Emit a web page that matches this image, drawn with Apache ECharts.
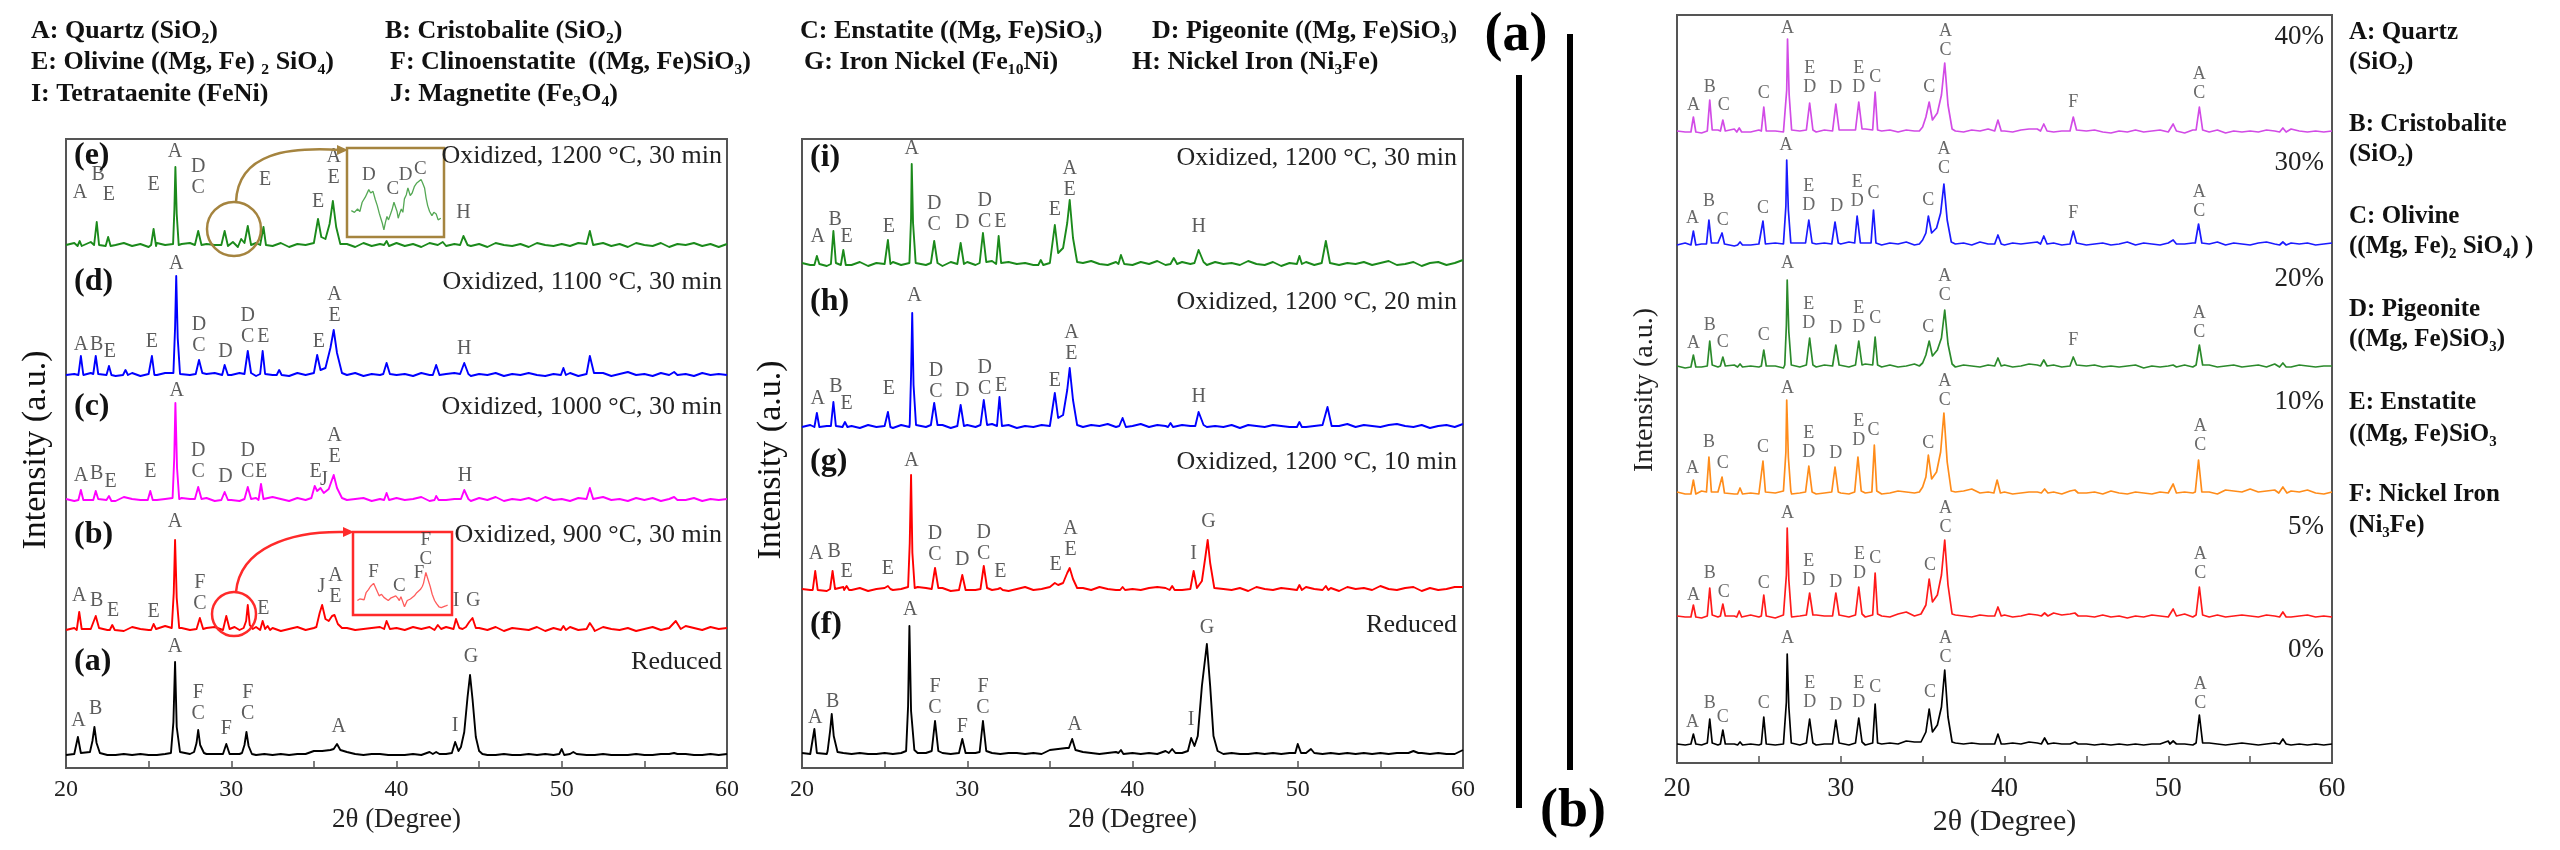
<!DOCTYPE html>
<html><head><meta charset="utf-8">
<script src="https://cdn.jsdelivr.net/npm/echarts/dist/echarts.min.js"></script>
<style>html,body{margin:0;padding:0;background:#fff}#c{width:2560px;height:850px}</style>
</head><body><div id="c"></div>
<script>
// ---------- DATA ----------
// baseline samples: 2θ = 20, 20.5, ... 60 ; peaks: flat [2θ, I, 2θ, I, ...] groups ; labels: [2θ, label height, text]
const aBase=[2,3,2,2,3,2,2,3,2,3, 2,2,3,2,3,3,4,3,3,3, 3,3,3,2,3,2,3,2,3,3, 6,6,7,9,5,3,2,3,3,2, 2,2,3,2,5,3,3,6,4,3, 3,2,2,3,2,2,3,2,3,2, 8,3,5,2,2,3,2,2,2,3, 2,2,3,3,4,3,2,2,3,2, 3];
const aPeaks=[[20.55,3,20.72,20,20.9,4],[21.45,5,21.6,16,21.72,30,21.85,14,22.05,4],[26.35,4,26.5,35,26.6,95,26.7,30,26.9,5],[27.75,5,27.9,14,28.0,27,28.12,12,28.35,4],[29.5,3,29.7,13,29.9,3],[30.65,4,30.8,12,30.92,25,31.05,11,31.25,3],[36.2,8,36.4,13,36.6,7],[42.2,3,42.4,5,42.6,3],[43.35,4,43.55,15,43.75,6,43.9,10,44.1,25,44.3,60,44.45,82,44.6,58,44.8,20,45.0,6,45.2,3],[49.85,3,50.0,8,50.15,2],[50.55,3,50.7,5,50.9,3],[56.6,2,56.8,4,57.0,3]];
const aLabels=[[20.75,25,'A'],[21.8,37,'B'],[26.6,99,'A'],[28.0,32,'F\nC'],[29.7,17,'F'],[31.0,32,'F\nC'],[36.5,19,'A'],[43.55,20,'I'],[44.5,89,'G']];

const bBase=[3,5,2,4,6,3,5,2,6,4, 3,5,7,4,5,3,4,5,6,3, 4,2,5,6,3,5,2,4,6,3, 5,8,9,6,5,3,4,5,6,4, 5,3,6,4,6,4,6,5,5,4, 5,3,6,2,5,4,3,6,2,5, 4,6,3,5,2,6,4,3,5,2, 4,6,3,5,4,7,5,3,6,4, 5];
const bPeaks=[[20.65,3,20.8,21,20.95,4],[21.6,4,21.8,17,22.0,5],[22.65,3,22.8,8,22.95,3],[25.15,3,25.3,9,25.45,4],[26.4,5,26.52,40,26.6,93,26.7,35,26.85,5],[27.9,4,28.1,15,28.3,4],[29.5,3,29.7,17,29.9,4,30.2,6,30.5,3],[30.75,5,30.9,12,31.0,28,31.12,8,31.3,4],[31.75,3,31.9,12,32.05,4,32.2,7,32.35,3],[35.15,6,35.35,20,35.5,28,35.7,14,35.9,12,36.1,17,36.25,18,36.45,9,36.7,5],[39.25,4,39.4,12,39.6,4],[42.3,3,42.5,8,42.7,4],[43.45,4,43.6,14,43.8,5,44.0,4,44.2,6,44.4,11,44.6,15,44.8,5],[49.95,3,50.1,7,50.25,3],[51.5,4,51.7,10,51.9,5],[56.6,5,56.9,12,57.2,4]];
const bLabels=[[20.8,26,'A'],[21.85,21,'B'],[22.85,11,'E'],[25.3,10,'E'],[26.6,100,'A'],[28.1,18,'F\nC'],[31.95,13,'E'],[35.45,35,'J'],[36.3,25,'A\nE'],[43.6,21,'I'],[44.65,21,'G']];

const cBase=[4,2,5,3,5,3,2,6,4,3, 5,3,4,2,5,4,3,5,2,5, 3,2,4,5,3,6,4,2,5,3, 6,7,8,6,3,4,5,2,4,3, 5,3,4,6,2,5,3,4,4,2, 5,3,6,2,4,3,5,2,6,3, 4,2,5,3,5,6,3,4,2,5, 3,5,2,4,6,3,5,2,4,3, 4];
const cPeaks=[[20.75,3,20.9,13,21.05,3],[21.65,3,21.8,12,21.95,4],[22.45,3,22.6,7,22.75,2],[24.95,3,25.1,12,25.25,3],[26.45,5,26.55,45,26.62,100,26.72,35,26.85,4],[27.8,4,28.0,16,28.2,4],[29.4,3,29.6,11,29.8,3],[30.8,4,31.0,16,31.2,4],[31.65,3,31.8,19,31.95,4],[34.85,5,35.05,17,35.2,12,35.4,15,35.6,10,35.9,14,36.2,28,36.4,15,36.7,5],[39.25,3,39.4,10,39.55,3],[42.3,3,42.4,7,42.55,3],[43.9,4,44.1,13,44.35,4],[51.5,4,51.7,15,51.9,4],[56.6,3,56.8,6,57.0,3]];
const cLabels=[[20.9,16,'A'],[21.85,18,'B'],[22.7,10,'E'],[25.1,20,'E'],[26.7,101,'A'],[28.0,20,'D\nC'],[29.65,15,'D'],[31.0,20,'D\nC'],[31.8,20,'E'],[35.1,20,'E'],[35.6,12,'J'],[36.25,35,'A\nE'],[44.15,16,'H']];

const dBase=[3,4,2,5,3,4,2,3,5,2, 4,3,5,2,4,3,2,4,5,3, 3,5,3,2,6,3,4,2,5,3, 4,5,6,4,3,5,2,4,3,5, 3,4,2,5,3,6,4,5,3,2, 4,3,5,2,4,3,5,3,2,4, 3,5,2,4,3,5,2,4,6,3, 4,2,5,3,5,4,2,5,3,4, 3];
const dPeaks=[[20.75,3,20.9,22,21.05,3],[21.65,4,21.8,22,21.95,4],[22.45,3,22.6,12,22.75,3],[23.45,3,23.6,8,23.75,3],[25.05,3,25.2,22,25.35,3],[26.5,5,26.6,50,26.67,102,26.76,40,26.9,4],[27.85,4,28.05,18,28.25,5],[29.45,3,29.6,13,29.8,3],[30.8,4,31.0,27,31.2,5],[31.75,4,31.9,27,32.05,4],[32.75,3,32.9,8,33.05,3],[35.0,5,35.2,23,35.4,8,35.7,10,36.0,30,36.2,48,36.4,25,36.7,5],[39.2,4,39.4,15,39.6,4],[42.2,3,42.4,13,42.6,3],[43.85,4,44.1,15,44.35,4],[49.95,3,50.1,10,50.25,3],[51.5,4,51.7,22,51.95,5],[56.6,3,56.8,6,57.0,3]];
const dLabels=[[20.9,22,'A'],[21.85,22,'B'],[22.65,15,'E'],[25.2,25,'E'],[26.67,103,'A'],[28.05,21,'D\nC'],[29.65,15,'D'],[31.0,30,'D\nC'],[31.95,30,'E'],[35.3,25,'E'],[36.25,51,'A\nE'],[44.1,18,'H']];

const eBase=[4,6,3,7,2,5,4,6,3,5, 2,6,4,3,5,6,2,5,4,7, 3,5,2,6,4,3,6,2,5,4, 6,5,7,4,5,2,6,3,5,4, 6,3,5,2,6,4,3,5,6,3, 5,2,6,4,3,5,2,6,4,3, 5,3,6,2,4,6,3,5,2,6, 4,3,6,2,5,4,6,3,5,2, 5];
const ePeaks=[[20.7,3,20.83,8,20.95,3],[21.7,4,21.86,27,22.0,4],[22.4,3,22.55,12,22.7,3],[25.15,4,25.3,20,25.45,3],[26.48,5,26.56,40,26.62,82,26.7,35,26.82,4],[27.8,4,28.0,18,28.2,4],[29.4,4,29.6,18,29.8,3,30.1,7,30.4,2,30.6,10,30.8,6,31.0,23,31.2,4],[31.75,4,31.95,22,32.1,4],[35.05,5,35.25,30,35.45,12,35.7,10,35.95,25,36.15,48,36.35,22,36.6,5],[39.25,4,39.4,8,39.55,3],[42.6,3,42.8,7,43.0,3],[43.85,4,44.05,13,44.3,4],[51.5,5,51.7,18,51.9,4]];
const eLabels=[[20.85,45,'A'],[21.95,63,'B'],[22.6,43,'E'],[25.3,53,'E'],[26.6,86,'A'],[28.0,50,'D\nC'],[32.05,58,'E'],[35.25,36,'E'],[36.2,60,'A\nE'],[44.05,25,'H']];

const fBase=[3,2,3,2,2,3,2,3,2,2, 3,2,3,2,3,3,4,3,2,3, 3,3,2,3,2,3,3,2,3,2, 6,7,8,8,4,3,2,3,4,2, 3,2,3,2,5,3,3,6,3,3, 3,2,3,2,2,3,2,3,2,3, 12,3,6,2,3,2,3,2,3,2, 3,2,3,3,4,3,2,3,2,2, 6];
const fPeaks=[[20.6,3,20.75,27,20.9,3],[21.55,5,21.7,25,21.8,42,21.92,20,22.15,4],[26.3,5,26.42,50,26.5,130,26.6,45,26.8,6],[27.85,5,28.05,35,28.25,5],[29.5,3,29.7,17,29.9,3],[30.75,4,30.95,35,31.15,5],[36.15,8,36.35,17,36.55,6],[39.15,3,39.3,6,39.45,2],[42.2,3,42.4,7,42.6,3],[43.35,5,43.55,18,43.75,10,43.95,20,44.2,70,44.5,112,44.7,70,44.9,20,45.15,5],[49.85,3,50.0,12,50.2,3],[50.6,3,50.8,7,51.0,3],[56.7,3,57.0,5,57.3,3]];
const fLabels=[[20.8,27,'A'],[21.85,43,'B'],[26.55,135,'A'],[28.05,37,'F\nC'],[29.7,18,'F'],[30.95,37,'F\nC'],[36.5,20,'A'],[43.55,25,'I'],[44.5,117,'G']];

const gBase=[4,3,5,2,4,6,3,5,2,4, 5,3,4,2,6,5,3,5,2,4, 5,3,6,3,5,2,4,6,3,4, 6,9,12,7,5,3,6,4,3,5, 4,3,5,6,5,4,3,6,5,3, 6,4,3,5,2,6,4,3,5,4, 5,6,4,3,5,2,6,4,5,3, 7,4,3,5,6,2,5,3,4,6, 6];
const gPeaks=[[20.65,3,20.8,22,20.95,3],[21.7,4,21.85,22,22.0,4],[22.55,3,22.7,7,22.85,3],[25.05,3,25.2,7,25.35,4],[26.42,6,26.52,50,26.6,118,26.68,40,26.82,5],[27.85,4,28.05,25,28.25,5],[29.5,3,29.7,18,29.9,3],[30.8,4,31.0,27,31.2,5],[31.85,4,32.0,5,32.15,3],[35.1,6,35.3,10,35.5,8,35.8,10,36.05,20,36.2,25,36.4,14,36.65,5],[39.25,3,39.4,6,39.55,3],[42.25,3,42.4,7,42.55,3],[43.5,4,43.7,22,43.9,5,44.2,12,44.4,35,44.55,53,44.7,30,44.95,5],[49.95,3,50.1,8,50.25,3],[51.55,4,51.7,7,51.85,3]];
const gLabels=[[20.85,28,'A'],[21.95,30,'B'],[22.7,10,'E'],[25.2,13,'E'],[26.62,121,'A'],[28.05,27,'D\nC'],[29.7,22,'D'],[31.0,28,'D\nC'],[32.0,10,'E'],[35.35,17,'E'],[36.25,32,'A\nE'],[43.7,28,'I'],[44.6,60,'G']];

const hBase=[3,5,2,4,3,6,4,2,5,3, 4,2,5,3,6,3,4,5,2,4, 5,3,4,6,3,5,2,4,3,5, 4,6,5,4,3,5,4,6,3,5, 4,6,3,5,4,3,5,4,6,3, 4,3,5,2,5,4,3,5,4,3, 6,3,4,5,2,4,6,3,5,4, 3,5,6,4,3,5,2,4,5,3, 6];
const hPeaks=[[20.75,3,20.9,17,21.05,3],[21.75,4,21.9,28,22.05,4],[22.45,3,22.6,8,22.75,3],[25.05,3,25.2,18,25.35,3],[26.52,6,26.6,55,26.67,117,26.75,45,26.9,5],[27.8,5,28.0,27,28.2,5],[29.4,4,29.6,25,29.8,4],[30.8,5,31.0,30,31.2,5],[31.8,4,31.95,33,32.1,4],[35.1,5,35.3,37,35.5,12,35.8,15,36.05,40,36.2,62,36.4,30,36.65,5],[39.2,4,39.4,12,39.6,3],[42.15,3,42.3,7,42.45,3],[43.8,4,44.0,18,44.3,5],[49.95,3,50.1,8,50.25,3],[51.55,4,51.8,23,52.05,4]];
const hLabels=[[20.95,20,'A'],[22.05,32,'B'],[22.7,15,'E'],[25.25,30,'E'],[26.8,123,'A'],[28.1,27,'D\nC'],[29.7,28,'D'],[31.05,30,'D\nC'],[32.05,33,'E'],[35.3,38,'E'],[36.3,65,'A\nE'],[44.0,22,'H']];

const iBase=[5,3,7,2,5,6,3,6,2,5, 4,6,3,5,7,3,5,2,6,4, 6,3,5,7,2,6,4,5,3,6, 5,4,6,3,5,7,4,3,6,5, 3,6,4,7,3,5,6,4,5,3, 6,4,5,3,7,4,3,6,2,5, 4,6,3,5,6,3,5,4,6,3, 5,7,3,4,6,2,5,6,3,5, 8];
const iPeaks=[[20.75,3,20.9,12,21.05,4],[21.75,4,21.9,37,22.05,5],[22.35,3,22.5,18,22.65,3],[25.05,4,25.2,28,25.35,4],[26.52,6,26.6,50,26.64,104,26.72,45,26.88,5],[27.8,5,28.0,27,28.2,5],[29.4,4,29.6,25,29.8,4],[30.75,5,30.95,35,31.15,6],[31.75,4,31.9,32,32.05,5],[34.3,3,34.45,8,34.6,3],[35.1,6,35.3,43,35.5,15,35.8,20,36.05,45,36.2,68,36.4,30,36.65,6],[39.15,4,39.3,13,39.5,4],[42.3,4,42.5,10,42.7,4],[43.75,5,44.0,18,44.3,6],[49.95,4,50.1,12,50.25,4],[51.45,5,51.7,27,51.95,5]];
const iLabels=[[20.95,20,'A'],[22.0,37,'B'],[22.7,20,'E'],[25.25,30,'E'],[26.64,108,'A'],[28.0,32,'D\nC'],[29.7,34,'D'],[31.05,35,'D\nC'],[32.0,35,'E'],[35.3,47,'E'],[36.2,67,'A\nE'],[44.0,30,'H']];

const p40Base=[4,3,5,2,4,5,3,6,4,3, 5,2,4,3,5,4,6,3,5,4, 3,5,4,6,3,4,5,3,5,4, 6,5,4,8,4,3,5,4,6,5, 4,3,5,6,6,5,3,4,5,3, 4,5,3,2,4,3,5,3,4,5, 3,4,2,5,4,3,5,2,4,3, 4,3,5,4,5,6,4,3,4,3, 4];
const p40Peaks=[[20.85,3,21.0,18,21.15,3],[21.85,4,22.0,35,22.15,5],[22.65,4,22.8,15,22.95,4],[23.65,3,23.8,7,23.95,3],[25.15,4,25.3,28,25.45,4],[26.6,5,26.7,45,26.75,96,26.85,40,27.0,5],[27.9,5,28.1,32,28.3,5],[29.5,4,29.7,31,29.9,5],[30.9,5,31.1,33,31.3,6],[31.95,5,32.1,43,32.25,5],[34.8,4,35.0,8,35.2,18,35.4,33,35.6,15,35.9,22,36.15,40,36.35,72,36.55,30,36.8,6],[39.4,4,39.6,15,39.8,4],[42.2,4,42.4,11,42.6,4],[44.0,4,44.2,18,44.4,5],[50.1,4,50.3,11,50.5,4],[51.7,5,51.9,28,52.1,5],[56.8,3,57.0,7,57.2,3]];
const p40Labels=[[21.0,20,'A'],[22.0,38,'B'],[22.85,20,'C'],[25.3,32,'C'],[26.75,97,'A'],[28.1,38,'E\nD'],[29.7,37,'D'],[31.1,38,'E\nD'],[32.1,48,'C'],[35.4,38,'C'],[36.4,75,'A\nC'],[44.2,23,'F'],[51.9,32,'A\nC']];

const p30Base=[3,5,2,4,3,5,4,2,5,3, 4,3,5,4,3,5,2,4,5,3, 4,6,3,5,4,3,5,4,6,3, 5,4,6,7,4,5,3,6,4,5, 3,5,4,5,6,4,5,3,4,5, 3,4,5,3,4,6,3,5,4,3, 5,3,4,5,3,4,6,3,5,4, 3,5,6,4,3,5,4,5,3,4, 5];
const p30Peaks=[[20.85,3,21.0,17,21.15,3],[21.8,4,21.95,28,22.1,5],[22.6,4,22.75,15,22.9,4],[23.7,3,23.85,6,24.0,3],[25.1,4,25.25,27,25.4,4],[26.55,5,26.65,42,26.7,88,26.8,38,26.95,5],[27.85,5,28.05,28,28.25,5],[29.45,4,29.65,26,29.85,5],[30.85,5,31.0,32,31.2,5],[31.85,5,32.0,38,32.15,5],[34.8,4,35.0,8,35.2,15,35.35,32,35.55,15,35.85,20,36.1,35,36.3,64,36.5,28,36.75,6],[39.4,4,39.6,13,39.8,4],[42.2,4,42.4,12,42.6,4],[44.0,4,44.2,17,44.4,5],[50.1,4,50.3,8,50.5,4],[51.65,5,51.85,24,52.05,5],[56.8,3,57.0,6,57.2,3]];
const p30Labels=[[20.95,20,'A'],[21.95,37,'B'],[22.8,18,'C'],[25.25,30,'C'],[26.65,93,'A'],[28.05,33,'E\nD'],[29.75,32,'D'],[31.0,37,'E\nD'],[32.0,45,'C'],[35.35,38,'C'],[36.3,70,'A\nC'],[44.2,25,'F'],[51.9,27,'A\nC']];

const p20Base=[4,2,5,3,5,3,4,5,2,4, 3,5,4,2,5,3,4,3,5,4, 5,3,4,6,4,3,5,3,4,6, 4,5,6,7,3,5,4,3,5,4, 5,3,4,6,5,4,5,3,4,5, 4,5,3,4,3,4,5,2,4,3, 4,3,5,3,4,5,3,4,5,3, 4,5,3,6,4,3,5,4,3,4, 4];
const p20Peaks=[[20.85,3,21.0,15,21.15,3],[21.85,4,22.0,29,22.15,5],[22.65,4,22.8,13,22.95,4],[23.7,3,23.85,6,24.0,3],[25.15,4,25.3,20,25.45,4],[26.58,5,26.68,45,26.73,90,26.83,38,26.98,5],[27.9,5,28.1,32,28.3,5],[29.5,4,29.7,25,29.9,5],[30.9,5,31.1,29,31.3,5],[31.95,5,32.1,33,32.25,5],[34.8,4,35.0,7,35.2,15,35.4,29,35.6,14,35.9,20,36.15,32,36.35,60,36.55,26,36.8,6],[39.4,4,39.6,12,39.8,4],[42.2,4,42.4,10,42.6,4],[44.0,4,44.2,13,44.4,5],[50.1,3,50.3,5,50.5,3],[51.7,5,51.9,25,52.1,5],[56.8,3,57.0,7,57.2,3]];
const p20Labels=[[21.0,17,'A'],[22.0,35,'B'],[22.8,18,'C'],[25.3,25,'C'],[26.75,97,'A'],[28.05,37,'E\nD'],[29.7,32,'D'],[31.1,33,'E\nD'],[32.1,42,'C'],[35.35,33,'C'],[36.35,65,'A\nC'],[44.2,20,'F'],[51.9,28,'A\nC']];

const p10Base=[5,3,4,6,3,5,4,3,6,4, 3,5,4,6,3,4,5,3,4,5, 4,3,6,4,5,3,4,6,5,4, 6,5,8,9,5,6,8,4,5,4, 5,3,4,5,5,4,5,3,6,5, 4,5,3,6,4,3,5,4,3,5, 4,3,5,4,6,5,3,7,6,5, 8,5,6,7,9,6,5,7,4,3, 5];
const p10Peaks=[[20.85,3,21.0,17,21.15,3],[21.8,5,21.95,40,22.1,5],[22.6,4,22.75,20,22.9,4],[23.7,3,23.85,9,24.0,3],[25.1,5,25.25,36,25.4,5],[26.55,6,26.65,45,26.7,97,26.8,40,26.95,6],[27.85,5,28.05,31,28.25,5],[29.45,5,29.65,30,29.85,5],[30.85,5,31.05,40,31.25,6],[31.9,5,32.05,52,32.2,6],[34.8,5,35.0,10,35.2,20,35.35,42,35.55,18,35.85,25,36.1,45,36.3,84,36.5,35,36.75,6],[39.35,4,39.55,17,39.75,4],[42.25,4,42.45,8,42.65,4],[44.1,4,44.3,7,44.5,4],[50.1,4,50.3,13,50.5,4],[51.65,5,51.85,37,52.05,5],[56.75,4,57.0,10,57.25,4]];
const p10Labels=[[20.95,19,'A'],[21.95,45,'B'],[22.8,24,'C'],[25.25,40,'C'],[26.75,99,'A'],[28.05,35,'E\nD'],[29.7,34,'D'],[31.1,47,'E\nD'],[32.0,57,'C'],[35.35,44,'C'],[36.35,87,'A\nC'],[51.95,42,'A\nC']];

const p5Base=[4,3,5,2,4,3,5,4,3,5, 3,4,2,5,3,4,3,5,4,3, 5,3,4,3,5,4,3,6,8,4, 6,5,7,8,5,4,3,5,4,3, 5,3,4,6,5,4,7,5,6,3, 4,3,5,3,4,2,4,3,5,4, 3,4,6,3,4,3,5,3,4,5, 4,3,5,4,5,3,4,5,3,4, 3];
const p5Peaks=[[20.85,3,21.0,15,21.15,3],[21.85,4,22.0,32,22.15,5],[22.65,4,22.8,16,22.95,4],[23.65,3,23.8,9,23.95,3],[25.15,4,25.3,25,25.45,4],[26.58,6,26.68,45,26.73,92,26.83,40,26.98,6],[27.9,5,28.1,27,28.3,5],[29.5,4,29.7,27,29.9,5],[30.9,5,31.1,33,31.3,6],[31.95,5,32.1,47,32.25,6],[34.9,6,35.2,15,35.4,41,35.6,18,35.9,25,36.15,45,36.35,80,36.55,35,36.8,6],[39.4,4,39.6,13,39.8,4],[42.25,4,42.45,7,42.65,4],[44.1,4,44.3,7,44.5,4],[50.1,4,50.3,11,50.5,4],[51.7,5,51.9,33,52.1,5],[56.8,3,57.0,8,57.2,3]];
const p5Labels=[[21.0,15,'A'],[22.0,37,'B'],[22.85,18,'C'],[25.3,27,'C'],[26.75,97,'A'],[28.05,30,'E\nD'],[29.7,28,'D'],[31.15,37,'E\nD'],[32.1,52,'C'],[35.45,45,'C'],[36.4,83,'A\nC'],[51.95,37,'A\nC']];

const p0Base=[3,2,3,2,3,2,3,3,2,3, 2,3,2,3,3,2,3,2,3,3, 3,2,3,2,3,3,4,3,6,5, 5,4,5,6,4,3,4,3,3,2, 3,4,3,5,4,4,4,3,3,5, 3,2,3,2,3,2,3,2,3,3, 6,2,3,2,3,4,3,2,3,4, 3,2,3,4,3,2,3,2,3,2, 3];
const p0Peaks=[[20.85,3,21.0,13,21.15,3],[21.85,4,22.0,28,22.15,4],[22.65,3,22.8,17,22.95,3],[23.7,2,23.85,5,24.0,2],[25.15,3,25.3,30,25.45,3],[26.58,5,26.68,45,26.73,93,26.83,40,26.98,4],[27.9,4,28.1,28,28.3,4],[29.5,3,29.7,27,29.9,4],[30.9,4,31.1,29,31.3,5],[31.95,4,32.1,43,32.25,4],[34.9,5,35.2,15,35.4,38,35.6,15,35.9,22,36.15,40,36.35,77,36.55,30,36.8,5],[39.4,3,39.6,13,39.8,3],[42.25,3,42.45,9,42.65,3],[44.1,3,44.3,5,44.5,3],[50.1,3,50.3,6,50.5,3],[51.7,4,51.9,32,52.1,4],[56.8,3,57.0,8,57.2,3]];
const p0Labels=[[20.95,15,'A'],[22.0,34,'B'],[22.8,20,'C'],[25.3,34,'C'],[26.75,99,'A'],[28.1,35,'E\nD'],[29.7,32,'D'],[31.1,35,'E\nD'],[32.1,50,'C'],[35.45,45,'C'],[36.4,80,'A\nC'],[51.95,34,'A\nC']];

// insets (magnified 29.2–31.6°)
const eInset=[29.26,29,29.34,27,29.42,31,29.48,28,29.54,39,29.62,45,29.71,54,29.76,50,29.82,52,29.88,42,29.93,35,29.98,26,30.02,20,30.06,14,30.10,6,30.14,15,30.18,22,30.22,18,30.27,20,30.31,30,30.36,39,30.40,41,30.44,28,30.47,20,30.51,26,30.55,31,30.59,27,30.63,43,30.68,48,30.72,56,30.78,47,30.83,50,30.89,58,30.95,62,31.0,60,31.06,66,31.1,62,31.15,56,31.19,44,31.23,35,31.28,28,31.34,23,31.39,27,31.45,25,31.5,18,31.57,20];
const eInsetLabels=[[29.71,60,'D'],[30.33,43,'C'],[30.66,59,'D'],[31.04,67,'C']];
const bInset=[29.26,16,29.32,18,29.37,20,29.43,17,29.48,26,29.54,30,29.59,34,29.67,38,29.74,30,29.81,22,29.87,24,29.93,20,29.98,18,30.04,16,30.1,19,30.15,18,30.23,22,30.28,19,30.32,16,30.36,21,30.39,20,30.45,8,30.52,16,30.56,14,30.6,18,30.65,20,30.7,22,30.76,26,30.8,24,30.85,30,30.9,34,30.93,38,30.99,52,31.04,50,31.1,34,31.15,24,31.21,16,31.26,12,31.32,8,31.38,7,31.43,6,31.49,9,31.54,10];
const bInsetLabels=[[29.67,40,'F'],[30.32,22,'C'],[30.82,38,'F'],[30.99,56,'F\nC']];

// text content
const legendRows=[
 [['A: Quartz (SiO₂)',31],['B: Cristobalite (SiO₂)',385],['C: Enstatite ((Mg, Fe)SiO₃)',800],['D: Pigeonite ((Mg, Fe)SiO₃)',1152]],
 [['E: Olivine ((Mg, Fe) ₂ SiO₄)',31],['F: Clinoenstatite  ((Mg, Fe)SiO₃)',390],['G: Iron Nickel (Fe₁₀Ni)',804],['H: Nickel Iron (Ni₃Fe)',1132]],
 [['I: Tetrataenite (FeNi)',31],['J: Magnetite (Fe₃O₄)',390]]
];
const rightLegend=['A: Quartz','(SiO₂)','B: Cristobalite','(SiO₂)','C: Olivine','((Mg, Fe)₂ SiO₄) )','D: Pigeonite','((Mg, Fe)SiO₃)','E: Enstatite','((Mg, Fe)SiO₃','F: Nickel Iron','(Ni₃Fe)'];
const leftTags=['(e)','(d)','(c)','(b)','(a)'];
const leftConds=['Oxidized, 1200 °C, 30 min','Oxidized, 1100 °C, 30 min','Oxidized, 1000 °C, 30 min','Oxidized, 900 °C, 30 min','Reduced'];
const midTags=['(i)','(h)','(g)','(f)'];
const midConds=['Oxidized, 1200 °C, 30 min','Oxidized, 1200 °C, 20 min','Oxidized, 1200 °C, 10 min','Reduced'];
const rightTags=['40%','30%','20%','10%','5%','0%'];

// ---------- LAYOUT ----------
const SERIF='Liberation Serif, Tinos, DejaVu Serif, serif';
const L={x0:66,x1:727,y0:139,y1:768};
const M={x0:802,x1:1463,y0:139,y1:768};
const R={x0:1677,x1:2332,y0:15,y1:763};
const leftSeries=[
 {base:aBase,peaks:aPeaks,labels:aLabels,color:'#000000',off:11},
 {base:bBase,peaks:bPeaks,labels:bLabels,color:'#ff0000',off:135},
 {base:cBase,peaks:cPeaks,labels:cLabels,color:'#ff00ff',off:265},
 {base:dBase,peaks:dPeaks,labels:dLabels,color:'#0000ff',off:390},
 {base:eBase,peaks:ePeaks,labels:eLabels,color:'#1b8a1b',off:519}];
const midSeries=[
 {base:fBase,peaks:fPeaks,labels:fLabels,color:'#000000',off:12},
 {base:gBase,peaks:gPeaks,labels:gLabels,color:'#ff0000',off:175},
 {base:hBase,peaks:hPeaks,labels:hLabels,color:'#0000ff',off:338},
 {base:iBase,peaks:iPeaks,labels:iLabels,color:'#1b8a1b',off:500}];
const rightSeries=[
 {base:p0Base,peaks:p0Peaks,labels:p0Labels,color:'#000000',off:16},
 {base:p5Base,peaks:p5Peaks,labels:p5Labels,color:'#ff1a1a',off:143},
 {base:p10Base,peaks:p10Peaks,labels:p10Labels,color:'#ff8c1a',off:266},
 {base:p20Base,peaks:p20Peaks,labels:p20Labels,color:'#2b8a2b',off:393},
 {base:p30Base,peaks:p30Peaks,labels:p30Labels,color:'#1a1aff',off:515},
 {base:p40Base,peaks:p40Peaks,labels:p40Labels,color:'#d24be6',off:628}];

function build(base,peaks,off){
  const ranges=peaks.map(p=>[p[0],p[p.length-2]]);
  const pts=[];
  base.forEach((v,i)=>{const x=20+i*0.5; if(!ranges.some(r=>x>=r[0]-0.01&&x<=r[1]+0.01)) pts.push([x,v]);});
  peaks.forEach(p=>{for(let k=0;k<p.length;k+=2) pts.push([p[k],p[k+1]]);});
  pts.sort((a,b)=>a[0]-b[0]);
  return pts.map(p=>[p[0],p[1]+off]);
}
function pairs(a){const o=[];for(let k=0;k<a.length;k+=2)o.push([a[k],a[k+1]]);return o;}

function gridOf(P){return {left:P.x0,top:P.y0,width:P.x1-P.x0,height:P.y1-P.y0,show:true,borderColor:'#555',borderWidth:2,backgroundColor:'transparent',outerBoundsMode:'none',containLabel:false};}
function xAx(gi,fs,nfs,margin,gap){return {type:'value',gridIndex:gi,min:20,max:60,interval:5,
  axisLine:{show:true,onZero:false,lineStyle:{color:'#555',width:2}},
  axisTick:{show:true,inside:true,length:7,lineStyle:{color:'#555',width:1.5}},
  axisLabel:{show:true,margin:margin,color:'#222',fontFamily:SERIF,fontSize:fs,formatter:v=>(v%10===0?String(v):'')},
  splitLine:{show:false},name:'2θ (Degree)',nameLocation:'middle',nameGap:gap,
  nameTextStyle:{color:'#222',fontFamily:SERIF,fontSize:nfs}};}
function yAx(gi,h){return {type:'value',gridIndex:gi,min:0,max:h,show:true,axisLine:{show:false},axisTick:{show:false},axisLabel:{show:false},splitLine:{show:false}};}
function hidX(gi){return {type:'value',gridIndex:gi,min:29.2,max:31.6,show:false,splitLine:{show:false}};}
function hidY(gi){return {type:'value',gridIndex:gi,min:0,max:100,show:false,splitLine:{show:false}};}

const series=[];
function addPanel(gi,list,fs,lh,col,lw){
  list.forEach(s=>{
    series.push({type:'line',xAxisIndex:gi,yAxisIndex:gi,data:build(s.base,s.peaks,s.off),showSymbol:false,symbol:'none',silent:true,animation:false,z:3,
      lineStyle:{color:s.color,width:lw,join:'round'}});
    series.push({type:'scatter',xAxisIndex:gi,yAxisIndex:gi,symbolSize:1,itemStyle:{color:'rgba(0,0,0,0)'},silent:true,animation:false,z:4,
      data:s.labels.map(l=>[l[0],l[1]+s.off,l[2]]),
      label:{show:true,position:'top',distance:0,formatter:p=>p.data[2],fontFamily:SERIF,fontSize:fs,lineHeight:lh,color:col}});
  });
}
addPanel(0,leftSeries,20,21,'#333',1.9);
addPanel(1,midSeries,20,21,'#333',1.9);
addPanel(2,rightSeries,18,19,'#444',1.7);
series.push({type:'line',xAxisIndex:3,yAxisIndex:3,data:pairs(eInset),showSymbol:false,symbol:'none',silent:true,animation:false,lineStyle:{color:'#55a855',width:1.3},z:6});
series.push({type:'scatter',xAxisIndex:3,yAxisIndex:3,symbolSize:1,itemStyle:{color:'rgba(0,0,0,0)'},silent:true,animation:false,z:7,
  data:eInsetLabels,label:{show:true,position:'top',distance:0,formatter:p=>p.data[2],fontFamily:SERIF,fontSize:19,lineHeight:19,color:'#333'}});
series.push({type:'line',xAxisIndex:4,yAxisIndex:4,data:pairs(bInset),showSymbol:false,symbol:'none',silent:true,animation:false,lineStyle:{color:'#ff5c5c',width:1.3},z:6});
series.push({type:'scatter',xAxisIndex:4,yAxisIndex:4,symbolSize:1,itemStyle:{color:'rgba(0,0,0,0)'},silent:true,animation:false,z:7,
  data:bInsetLabels,label:{show:true,position:'top',distance:0,formatter:p=>p.data[2],fontFamily:SERIF,fontSize:19,lineHeight:19,color:'#333'}});

// ---------- GRAPHIC TEXT / DECORATION ----------
const G=[];
function txt(x,y,t,size,weight,align,fill,rot){
  const e={type:'text',x:x,y:y,z:10,silent:true,style:{text:t,fontFamily:SERIF,fontSize:size,fontWeight:weight,fill:fill||'#111',textAlign:align||'left',align:align||'left',textVerticalAlign:'middle',verticalAlign:'middle'}};
  if(rot) e.rotation=rot; G.push(e);
}
const rowY=[31,62,94];
legendRows.forEach((row,ri)=>row.forEach(c=>txt(c[1],rowY[ri],c[0],26,'bold','left','#111')));
const rlY=[33,63,125,155,217,247,310,340,403,435,495,526];
rightLegend.forEach((t,i)=>txt(2349,rlY[i],t,25,'bold','left','#111'));
const lTagY=[156,282,407,535,662];
leftTags.forEach((t,i)=>{txt(74,lTagY[i],t,32,'bold','left','#111');txt(722,lTagY[i],leftConds[i],26,'normal','right','#222');});
const mTagY=[158,302,462,625];
midTags.forEach((t,i)=>{txt(810,mTagY[i],t,32,'bold','left','#111');txt(1457,mTagY[i],midConds[i],26,'normal','right','#222');});
const rTagY=[37,163,279,402,527,650];
rightTags.forEach((t,i)=>txt(2324,rTagY[i],t,27,'normal','right','#222'));
txt(36,450,'Intensity (a.u.)',34,'normal','center','#111',Math.PI/2);
txt(771,460,'Intensity (a.u.)',34,'normal','center','#111',Math.PI/2);
txt(1645,390,'Intensity (a.u.)',28,'normal','center','#222',Math.PI/2);
txt(1516,36,'(a)',54,'bold','center','#000');
txt(1573,812,'(b)',54,'bold','center','#000');
G.push({type:'line',silent:true,shape:{x1:1519,y1:75,x2:1519,y2:808},style:{stroke:'#000',lineWidth:6}});
G.push({type:'line',silent:true,shape:{x1:1570,y1:34,x2:1570,y2:770},style:{stroke:'#000',lineWidth:6}});
const BR='#a5843f';
G.push({type:'rect',silent:true,z:5,shape:{x:347,y:148,width:97,height:89},style:{fill:'#fff',stroke:BR,lineWidth:2.5}});
G.push({type:'circle',silent:true,z:5,shape:{cx:234,cy:229,r:27},style:{fill:'none',stroke:BR,lineWidth:2.5}});
G.push({type:'bezierCurve',silent:true,z:5,shape:{x1:236,y1:202,cpx1:238,cpy1:152,cpx2:290,cpy2:147,x2:340,y2:150},style:{fill:'none',stroke:BR,lineWidth:2.5}});
G.push({type:'polygon',silent:true,z:5,shape:{points:[[348,150],[337,145],[337,155]]},style:{fill:BR}});
const RD='#ff2a2a';
G.push({type:'rect',silent:true,z:5,shape:{x:353,y:532,width:99,height:83},style:{fill:'#fff',stroke:RD,lineWidth:2.5}});
G.push({type:'circle',silent:true,z:5,shape:{cx:234,cy:614,r:22},style:{fill:'none',stroke:RD,lineWidth:2.5}});
G.push({type:'bezierCurve',silent:true,z:5,shape:{x1:236,y1:592,cpx1:240,cpy1:548,cpx2:290,cpy2:531,x2:344,y2:532},style:{fill:'none',stroke:RD,lineWidth:2.5}});
G.push({type:'polygon',silent:true,z:5,shape:{points:[[354,532],[343,527],[343,537]]},style:{fill:RD}});

const chart=echarts.init(document.getElementById('c'),null,{renderer:'canvas'});
chart.setOption({
  animation:false,backgroundColor:'#ffffff',
  textStyle:{fontFamily:SERIF},
  grid:[gridOf(L),gridOf(M),gridOf(R),
    {left:349,top:151,width:93,height:84,show:false,outerBoundsMode:'none'},
    {left:355,top:535,width:95,height:78,show:false,outerBoundsMode:'none'}],
  xAxis:[xAx(0,24,27,10,38),xAx(1,24,27,10,38),xAx(2,27,30,12,38),hidX(3),hidX(4)],
  yAxis:[yAx(0,L.y1-L.y0),yAx(1,M.y1-M.y0),yAx(2,R.y1-R.y0),hidY(3),hidY(4)],
  series:series,
  graphic:{elements:G}
});
</script></body></html>
